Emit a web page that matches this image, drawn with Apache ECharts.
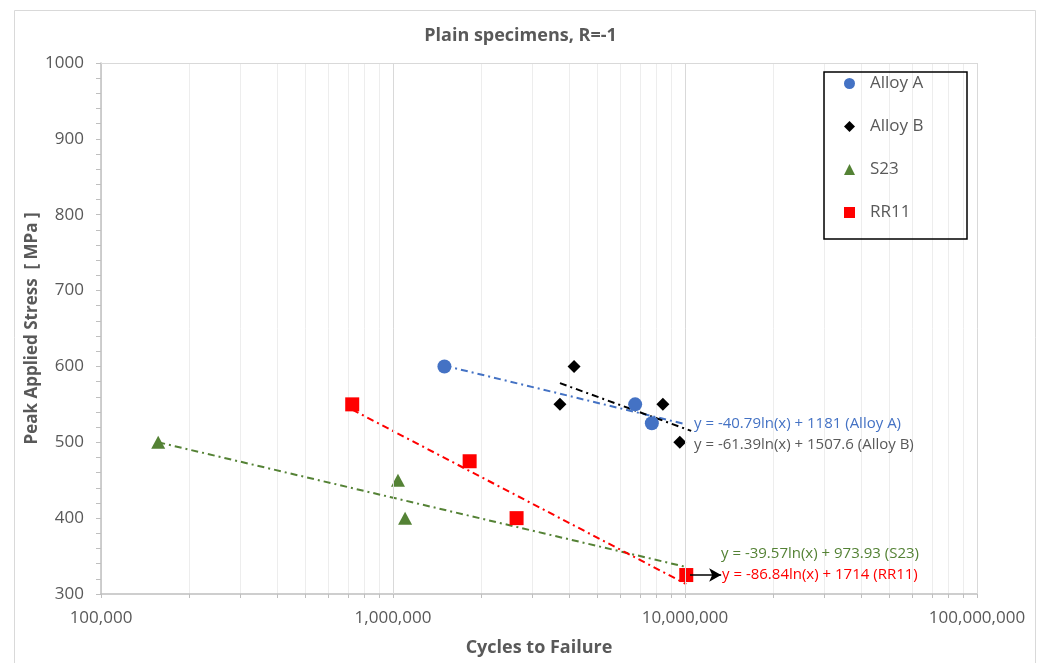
<!DOCTYPE html>
<html>
<head>
<meta charset="utf-8">
<script src="https://cdn.jsdelivr.net/npm/echarts@6/dist/echarts.min.js"></script>
<style>
  html, body { margin: 0; padding: 0; background: #fff; }
  #chart { width: 1041px; height: 663px; }
</style>
</head>
<body>
<div id="chart"></div>
<script>
// measured points [cycles, stress MPa]
const alloyA = [[1.5e6, 600], [6.75e6, 550], [7.7e6, 525]]
const alloyB = [[3.73e6, 550], [4.17e6, 600], [8.4e6, 550], [9.6e6, 500]]
const s23 = [[1.57e5, 500], [1.04e6, 450], [1.1e6, 400]]
const rr11 = [[7.25e5, 550], [1.83e6, 475], [2.65e6, 400], [1.01e7, 325]]

// log trendline end points (straight on a log x axis)
const trendA = [[1.5e6, 601], [1.0e7, 524]]
const trendB = [[3.73e6, 578], [1.05e7, 515]]
const trendS23 = [[1.57e5, 500], [1.0e7, 336]]
const trendRR11 = [[7.25e5, 543], [1.01e7, 313]]

const arrowLine = [[1.04e7, 325], [1.33e7, 325]]

const majorX = [1e5, 1e6, 1e7, 1e8]
const minorX = [2e5, 3e5, 4e5, 5e5, 6e5, 7e5, 8e5, 9e5,
  2e6, 3e6, 4e6, 5e6, 6e6, 7e6, 8e6, 9e6,
  2e7, 3e7, 4e7, 5e7, 6e7, 7e7, 8e7, 9e7]
const yTicks = [300, 400, 500, 600, 700, 800, 900, 1000]

const equations = [
  { text: 'y = -40.79ln(x) + 1181 (Alloy A)', color: '#4472C4', x: 694, y: 424 },
  { text: 'y = -61.39ln(x) + 1507.6 (Alloy B)', color: '#595959', x: 694, y: 445 },
  { text: 'y = -39.57ln(x) + 973.93 (S23)', color: '#548235', x: 721, y: 554 },
  { text: 'y = -86.84ln(x) + 1714 (RR11)', color: '#FF0000', x: 722, y: 575 }
]

const FONT = '"Open Sans", "Liberation Sans", sans-serif'
const TXT = '#595959'
const dashDot = [7, 4, 2, 4]

const chart = echarts.init(document.getElementById('chart'))

function trend (data, color) {
  return {
    type: 'line',
    data: data,
    symbol: 'none',
    silent: true,
    z: 3,
    lineStyle: { color: color, width: 2, type: dashDot }
  }
}

function points (name, data, symbol, size, color) {
  return {
    name: name,
    type: 'scatter',
    data: data,
    symbol: symbol,
    symbolSize: size,
    z: 4,
    itemStyle: { color: color, opacity: 1 }
  }
}

const rr11Series = points('RR11', rr11, 'rect', 14, '#FF0000')
rr11Series.markLine = {
  silent: true,
  symbol: ['none', 'arrow'],
  symbolSize: [10, 12],
  label: { show: false },
  lineStyle: { color: '#000000', width: 1.5, type: 'solid' },
  data: [[{ coord: arrowLine[0] }, { coord: arrowLine[1] }]]
}

const option = {
  animation: false,
  backgroundColor: '#fff',
  textStyle: { fontFamily: FONT },
  title: {
    text: 'Plain specimens, R=-1',
    left: 'center',
    top: 25,
    padding: 0,
    textStyle: { fontFamily: FONT, fontSize: 18, fontWeight: 'bold', color: TXT, lineHeight: 22 }
  },
  grid: { left: 101, right: 64, top: 63, bottom: 69, containLabel: false },
  legend: {
    orient: 'vertical',
    left: 844,
    top: 75,
    padding: 0,
    itemWidth: 11,
    itemHeight: 11,
    itemGap: 26,
    data: ['Alloy A', 'Alloy B', 'S23', 'RR11'],
    textStyle: { fontFamily: FONT, fontSize: 17, color: TXT, lineHeight: 16, padding: [0, 0, 0, 10] }
  },
  xAxis: {
    type: 'log',
    logBase: 10,
    min: 1e5,
    max: 1e8,
    name: 'Cycles to Failure',
    nameLocation: 'middle',
    nameGap: 45,
    nameMoveOverlap: false,
    nameTextStyle: { fontFamily: FONT, fontSize: 18, fontWeight: 'bold', color: TXT },
    axisLine: { show: true, lineStyle: { color: '#BFBFBF', width: 1.5 } },
    axisTick: { show: true, length: 4, lineStyle: { color: '#BFBFBF' }, customValues: majorX.concat(minorX) },
    axisLabel: {
      customValues: majorX,
      margin: 16,
      fontFamily: FONT,
      fontSize: 17,
      color: TXT,
      formatter: v => Number(v).toLocaleString('en-US')
    },
    splitLine: { show: true, lineStyle: { color: '#EDEDED', width: 1 } }
  },
  yAxis: {
    type: 'value',
    min: 300,
    max: 1000,
    interval: 100,
    name: 'Peak Applied Stress  [ MPa ]',
    nameLocation: 'middle',
    nameGap: 60,
    nameMoveOverlap: false,
    nameTextStyle: { fontFamily: FONT, fontSize: 17, fontWeight: 'bold', color: TXT },
    axisLine: { show: true, lineStyle: { color: '#BFBFBF', width: 1.5 } },
    axisTick: { show: true, inside: false, length: 5, lineStyle: { color: '#BFBFBF' } },
    minorTick: { show: true, splitNumber: 5, length: 5, lineStyle: { color: '#BFBFBF' } },
    axisLabel: { margin: 17, fontFamily: FONT, fontSize: 17, color: TXT, formatter: v => String(v) },
    splitLine: { show: false }
  },
  series: [
    {
      name: 'frame',
      type: 'line',
      data: [],
      silent: true,
      z: 1,
      markLine: {
        silent: true,
        symbol: 'none',
        label: { show: false },
        animation: false,
        lineStyle: { color: '#D9D9D9', width: 1, type: 'solid' },
        data: majorX.slice(1).map(v => ({ xAxis: v })).concat([{ yAxis: yTicks[yTicks.length - 1] }])
      }
    },
    trend(trendA, '#4472C4'),
    trend(trendB, '#000000'),
    trend(trendS23, '#548235'),
    trend(trendRR11, '#FF0000'),
    points('Alloy A', alloyA, 'circle', 14, '#4472C4'),
    points('Alloy B', alloyB, 'diamond', 13, '#000000'),
    points('S23', s23, 'triangle', [14, 13], '#548235'),
    rr11Series
  ],
  graphic: [
    {
      type: 'rect',
      silent: true,
      shape: { x: 14.5, y: 10.5, width: 1021, height: 700 },
      style: { fill: 'none', stroke: '#D9D9D9', lineWidth: 1 }
    },
    {
      type: 'rect',
      silent: true,
      z: 10,
      shape: { x: 824, y: 72, width: 143, height: 167 },
      style: { fill: 'none', stroke: '#000000', lineWidth: 1.5 }
    }
  ].concat(equations.map(e => ({
    type: 'text',
    silent: true,
    z: 10,
    x: e.x,
    y: e.y,
    style: {
      text: e.text,
      fill: e.color,
      font: '15px ' + FONT,
      textAlign: 'left',
      textVerticalAlign: 'middle'
    }
  })))
}

chart.setOption(option)
</script>
</body>
</html>
